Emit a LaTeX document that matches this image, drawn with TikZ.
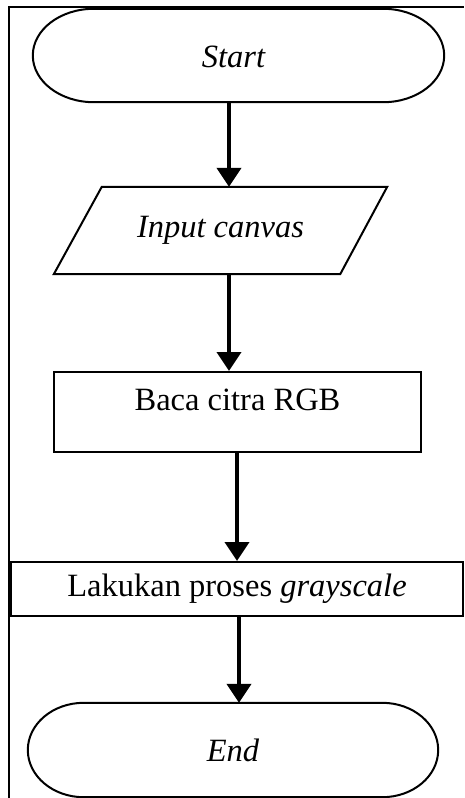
\documentclass[tikz,border=0pt]{standalone}
\usepackage{fontspec}
\setmainfont{Liberation Serif}
\usetikzlibrary{arrows.meta,calc}

\tikzset{
  box/.style={draw, line width=2pt, inner sep=0pt, font=\fontsize{32.5}{39}\selectfont},
  plain/.style={inner sep=0pt, font=\fontsize{32.5}{39}\selectfont},
  outline/.style={line width=2pt},
  flow/.style={line width=4pt, -{Triangle[width=24pt,length=19pt]}},
  frame/.style={line width=1.2pt}
}

% stadium outline with elliptical ends around node #1, end radius #2
\newcommand\terminaloutline[2]{%
  \draw[outline]
    ($(#1.north west)+(#2,0)$) -- ($(#1.north east)+(-#2,0)$)
    .. controls ($(#1.north east)+(-0.448*#2,0)$) and ($(#1.east)!0.552!(#1.north east)$) .. (#1.east)
    .. controls ($(#1.east)!0.552!(#1.south east)$) and ($(#1.south east)+(-0.448*#2,0)$) .. ($(#1.south east)+(-#2,0)$)
    -- ($(#1.south west)+(#2,0)$)
    .. controls ($(#1.south west)+(0.448*#2,0)$) and ($(#1.west)!0.552!(#1.south west)$) .. (#1.west)
    .. controls ($(#1.west)!0.552!(#1.north west)$) and ($(#1.north west)+(0.448*#2,0)$) .. cycle;%
}

\begin{document}
\begin{tikzpicture}[x=1pt, y=-1pt]
  \useasboundingbox (0,0) rectangle (464,798);

  % outer frame (left and top edges)
  \draw[frame] (9,798) -- (9,7) -- (464,7);

  % connector columns
  \coordinate (c1) at (229,0);
  \coordinate (c3) at (237,0);
  \coordinate (c4) at (239,0);

  % start terminal
  \node[plain, minimum width=411pt, minimum height=93pt] (start) at (238.5,55.5) {};
  \terminaloutline{start}{61}
  \node[plain] (starttext) at (233.5,57) {\itshape Start};

  % input parallelogram
  \node[plain, minimum width=333pt, minimum height=87pt] (inp) at (220.5,230.5) {\itshape Input canvas};
  \draw[outline, line join=miter]
    ($(inp.north west)+(48,0)$) -- (inp.north east) -- ($(inp.south east)+(-47,0)$) -- (inp.south west) -- cycle;

  % read RGB image
  \node[box, minimum width=367pt, minimum height=80pt] (baca) at (237.5,412) {};
  \node[plain] (bacatext) at ($(baca.center)+(0,-12)$) {Baca citra RGB};

  % grayscale step
  \node[box, minimum width=452pt, minimum height=54pt] (gray) at (237,589) {Lakukan proses \textit{grayscale}};

  % end terminal
  \node[plain, minimum width=410pt, minimum height=94pt] (end) at (233,750) {\itshape End};
  \terminaloutline{end}{56}

  % connectors
  \draw[flow] (start.south -| c1) -- (inp.north -| c1);
  \draw[flow] (inp.south -| c1) -- (baca.north -| c1);
  \draw[flow] (baca.south -| c3) -- (gray.north -| c3);
  \draw[flow] (gray.south -| c4) -- (end.north -| c4);
\end{tikzpicture}
\end{document}
